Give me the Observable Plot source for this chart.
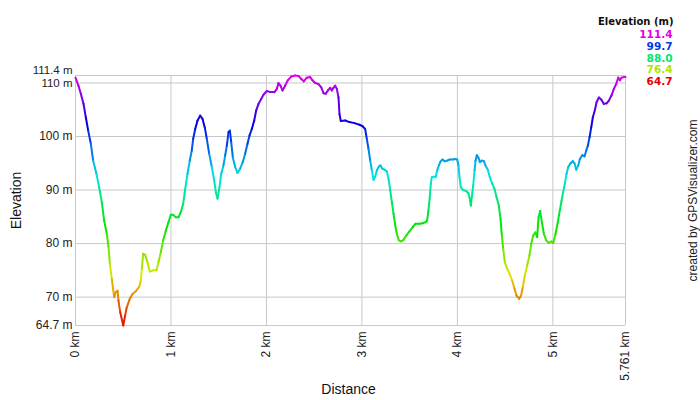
<!DOCTYPE html>
<html>
<head>
<meta charset="utf-8">
<script src="https://cdn.jsdelivr.net/npm/d3@7"></script>
<script src="https://cdn.jsdelivr.net/npm/@observablehq/plot@0.6"></script>
<style>
  html, body { margin: 0; padding: 0; background: #fff; }
</style>
</head>
<body>
<div id="chart"></div>
<script>
// Distance along the track (km)
const distanceKm = [
  0, 0.031, 0.056, 0.084, 0.108, 0.133, 0.161, 0.185, 0.22, 0.248, 0.276, 0.30, 0.328, 0.346, 0.36, 0.38,
  0.405, 0.42, 0.44, 0.45, 0.468, 0.50, 0.52, 0.537, 0.569, 0.597, 0.632, 0.667, 0.684, 0.695, 0.709, 0.73,
  0.754, 0.778, 0.814, 0.848, 0.869, 0.894, 0.918, 0.946, 0.974, 0.998, 1.023, 1.051, 1.079, 1.103, 1.128, 1.149,
  1.173, 1.197, 1.218, 1.233, 1.254, 1.278, 1.306, 1.33, 1.354, 1.375, 1.40, 1.428, 1.453, 1.47, 1.487, 1.508,
  1.526, 1.55, 1.568, 1.585, 1.603, 1.617, 1.631, 1.648, 1.673, 1.697, 1.725, 1.752, 1.777, 1.801, 1.823, 1.847,
  1.872, 1.893, 1.917, 1.945, 1.969, 2.004, 2.039, 2.084, 2.109, 2.126, 2.147, 2.168, 2.196, 2.224, 2.259, 2.301,
  2.336, 2.364, 2.391, 2.423, 2.458, 2.482, 2.51, 2.545, 2.574, 2.598, 2.622, 2.643, 2.668, 2.685, 2.702, 2.72,
  2.737, 2.755, 2.765, 2.779, 2.825, 2.87, 2.922, 2.975, 3.009, 3.034, 3.051, 3.069, 3.087, 3.104, 3.122, 3.139,
  3.157, 3.178, 3.195, 3.213, 3.237, 3.261, 3.279, 3.297, 3.314, 3.331, 3.349, 3.366, 3.387, 3.411, 3.436, 3.464,
  3.498, 3.533, 3.561, 3.603, 3.638, 3.666, 3.683, 3.697, 3.711, 3.722, 3.732, 3.753, 3.774, 3.789, 3.806, 3.823,
  3.844, 3.865, 3.893, 3.92, 3.952, 3.98, 3.998, 4.012, 4.022, 4.036, 4.061, 4.092, 4.116, 4.13, 4.141, 4.151,
  4.166, 4.18, 4.19, 4.204, 4.222, 4.236, 4.256, 4.277, 4.294, 4.319, 4.34, 4.365, 4.389, 4.41, 4.434, 4.452,
  4.466, 4.48, 4.497, 4.522, 4.546, 4.574, 4.598, 4.619, 4.647, 4.668, 4.685, 4.706, 4.731, 4.755, 4.773, 4.794,
  4.818, 4.836, 4.85, 4.867, 4.885, 4.906, 4.931, 4.958, 4.986, 5.004, 5.028, 5.052, 5.073, 5.091, 5.108, 5.129,
  5.143, 5.161, 5.185, 5.209, 5.227, 5.245, 5.266, 5.283, 5.308, 5.332, 5.35, 5.367, 5.385, 5.402, 5.419, 5.44,
  5.458, 5.482, 5.507, 5.534, 5.563, 5.587, 5.615, 5.639, 5.664, 5.685, 5.702, 5.72, 5.744, 5.761
];

// Elevation at each distance (m)
const elevationM = [
  111.0, 109.5, 108.0, 106.1, 103.6, 101.1, 98.6, 95.5, 93.0, 90.5, 87.7, 84.3, 81.8, 79.3, 76.2, 73.4,
  70.0, 70.9, 71.2, 69.4, 67.2, 64.7, 66.6, 68.1, 69.7, 70.6, 71.1, 71.9, 73.1, 75.3, 78.1, 77.9,
  76.5, 74.8, 75.0, 75.0, 76.5, 78.4, 80.6, 82.4, 84.0, 85.4, 85.4, 84.9, 84.9, 85.9, 87.4, 90.2,
  93.0, 95.5, 97.4, 99.6, 101.4, 103.0, 103.9, 103.3, 101.7, 99.6, 96.8, 94.3, 91.8, 89.6, 88.4, 90.5,
  93.0, 94.6, 96.5, 98.3, 100.8, 101.1, 98.9, 96.1, 94.3, 93.2, 94.0, 95.2, 96.8, 98.6, 100.2, 101.4,
  103.0, 104.9, 106.1, 107.0, 107.8, 108.5, 108.3, 108.3, 108.9, 110.0, 109.5, 108.6, 109.5, 110.5, 111.2, 111.4,
  111.3, 110.8, 110.3, 111.0, 111.1, 110.5, 110.0, 109.8, 109.2, 108.1, 108.0, 108.6, 109.1, 108.6, 109.1, 109.5,
  108.9, 107.3, 104.2, 102.9, 103.0, 102.7, 102.5, 102.2, 101.9, 101.4, 99.6, 97.7, 95.5, 93.7, 91.9, 92.5,
  93.7, 94.4, 94.6, 94.0, 93.8, 93.5, 92.1, 89.9, 87.7, 85.6, 83.4, 81.8, 80.6, 80.4, 80.7, 81.5,
  82.3, 83.1, 83.7, 83.7, 83.8, 84.0, 84.3, 86.2, 88.7, 91.2, 92.4, 92.5, 92.5, 93.7, 94.6, 95.3,
  95.7, 95.4, 95.5, 95.7, 95.7, 95.8, 95.7, 94.6, 92.4, 90.5, 90.0, 89.8, 89.4, 88.4, 87.1, 88.7,
  90.9, 93.7, 95.5, 96.5, 96.0, 95.2, 95.5, 95.4, 94.6, 93.8, 92.4, 91.2, 90.2, 88.7, 87.1, 84.6,
  81.5, 79.0, 76.5, 75.3, 74.4, 73.1, 71.6, 70.3, 69.7, 70.3, 71.9, 74.0, 75.9, 77.8, 79.9, 81.5,
  82.1, 81.2, 84.9, 86.1, 84.0, 81.8, 80.6, 80.1, 80.4, 80.1, 81.8, 84.0, 86.2, 88.0, 89.6, 91.5,
  93.0, 94.3, 95.0, 95.4, 95.0, 93.8, 94.6, 95.8, 96.5, 96.3, 97.4, 98.3, 99.9, 101.7, 103.6, 104.9,
  106.4, 107.3, 106.9, 106.1, 106.2, 106.7, 107.7, 108.9, 109.8, 111.0, 110.5, 111.0, 111.1, 111.1
];

// Axis ticks
const xTicks = [0, 1, 2, 3, 4, 5, 5.761];
const yTicks = [64.7, 70, 80, 90, 100, 110, 111.4];

// Legend values (m)
const legendTitle = "Elevation (m)";
const legendValues = [111.4, 99.7, 88.0, 76.4, 64.7];

const minE = 64.7, maxE = 111.4, maxD = 5.761;

// segments between consecutive track points
const segments = d3.pairs(d3.range(distanceKm.length)).map(([i, j]) => ({
  d1: distanceKm[i], e1: elevationM[i], d2: distanceKm[j], e2: elevationM[j], e: (elevationM[i] + elevationM[j]) / 2
}));

const hueColor = t => d3.hsl(300 * t, 1, 0.45).formatHex();
const labelFont = "'Liberation Sans', Arial, sans-serif";
const legendFont = "'DejaVu Sans', Verdana, sans-serif";

const chart = Plot.plot({
  width: 700,
  height: 400,
  marginLeft: 75,
  marginRight: 75,
  marginTop: 75,
  marginBottom: 75,
  style: { fontFamily: labelFont, fontSize: "12px", background: "#fff", color: "#222" },
  x: { domain: [0, maxD] },
  y: { domain: [minE, maxE] },
  color: { type: "linear", domain: [minE, maxE], interpolate: hueColor },
  marks: [
    Plot.ruleX(xTicks, { stroke: "#c8c8c8", strokeWidth: 1 }),
    Plot.ruleY(yTicks, { stroke: "#c8c8c8", strokeWidth: 1 }),
    Plot.link(segments, {
      x1: "d1", y1: "e1", x2: "d2", y2: "e2",
      stroke: "e", strokeWidth: 2, strokeLinecap: "round"
    }),
    Plot.axisX(xTicks, {
      tickSize: 0, tickPadding: 6, tickRotate: -90,
      tickFormat: d => `${d} km`, label: null, fontSize: 12, fill: "#222"
    }),
    Plot.axisY(yTicks.filter(v => v < 110), {
      tickSize: 0, tickPadding: 3, tickFormat: d => `${d} m`, label: null, fontSize: 12, fill: "#222"
    }),
    Plot.axisY([110], {
      tickSize: 0, tickPadding: 3, tickFormat: d => `${d} m`, label: null, fontSize: 11.5, fill: "#222", dy: 0
    }),
    Plot.axisY([111.4], {
      tickSize: 0, tickPadding: 3, tickFormat: d => `${d} m`, label: null, fontSize: 11.5, fill: "#222", dy: -5.5
    }),
    Plot.text(["Distance"], {
      frameAnchor: "bottom", dy: 64, dx: -2, textAnchor: "middle", lineAnchor: "middle",
      fontSize: 14, fill: "#111"
    }),
    Plot.text(["Elevation"], {
      frameAnchor: "left", dx: -59, rotate: -90, textAnchor: "middle", lineAnchor: "middle",
      fontSize: 14, fill: "#111"
    }),
    Plot.text([legendTitle], {
      frameAnchor: "top-right", dx: 48, dy: -54, textAnchor: "end", lineAnchor: "middle",
      fontFamily: legendFont, fontWeight: "bold", fontSize: 10, fill: "#111"
    }),
    ...legendValues.map((v, i) => Plot.text([v], {
      frameAnchor: "top-right", dx: 47, dy: -40.5 + i * 11.6, textAnchor: "end", lineAnchor: "middle",
      text: d => d.toFixed(1), fill: d => d,
      fontFamily: legendFont, fontWeight: "bold", fontSize: 10.5
    })),
    Plot.text(["created by GPSVisualizer.com"], {
      frameAnchor: "right", dx: 68, rotate: -90, textAnchor: "middle", lineAnchor: "middle",
      fontSize: 12, fill: "#222"
    })
  ]
});

document.getElementById("chart").appendChild(chart);
</script>
</body>
</html>
